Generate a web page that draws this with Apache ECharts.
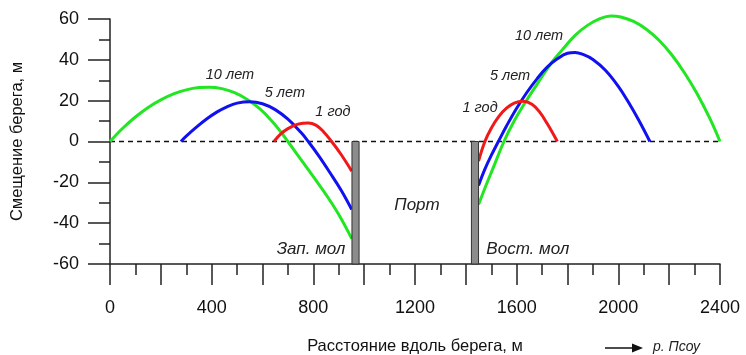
<!DOCTYPE html>
<html>
<head>
<meta charset="utf-8">
<script src="https://cdn.jsdelivr.net/npm/echarts@6/dist/echarts.min.js"></script>
<style>
  html, body { margin: 0; padding: 0; background: #fff; }
  #main { width: 746px; height: 355px; }
</style>
</head>
<body>
<div id="main"></div>
<script>
// западная сторона (до Зап. мола)
var west1 = [[645, 0], [670, 3.5], [700, 6.3], [740, 8.5], [780, 9.1], [810, 8.0], [840, 4.8], [872, 0], [910, -6.5], [951, -14.5]];
var west5 = [[279, 0], [300, 2.6], [340, 7.0], [380, 11.0], [420, 14.4], [460, 17.0], [500, 18.8], [550, 19.5], [600, 18.5], [650, 15.6], [700, 10.9], [750, 4.6], [780, 0], [820, -6.8], [865, -15.2], [910, -24.0], [951, -33.3]];
var west10 = [[0, 0], [50, 6.5], [100, 12], [150, 16.7], [200, 20.4], [250, 23.3], [300, 25.3], [350, 26.4], [390, 26.6], [440, 25.9], [490, 23.9], [540, 20.6], [590, 16.0], [640, 9.6], [670, 5.0], [700, 0], [750, -8.6], [800, -17.2], [850, -26.0], [900, -35.8], [951, -47.6]];
// восточная сторона (после Вост. мола)
var east1 = [[1450, -9.6], [1475, 0], [1500, 6.5], [1530, 12.3], [1560, 16.3], [1590, 18.8], [1625, 19.7], [1660, 18.3], [1690, 14.5], [1720, 8.8], [1760, 0]];
var east5 = [[1450, -21.5], [1475, -13.5], [1500, -6.8], [1528, 0], [1560, 7.6], [1600, 16.3], [1640, 24.0], [1680, 30.7], [1720, 36.4], [1760, 40.5], [1800, 43.2], [1830, 43.6], [1860, 42.7], [1900, 40.2], [1950, 34.8], [2000, 27.0], [2040, 19.2], [2080, 10.5], [2124, 0]];
var east10 = [[1450, -30.9], [1480, -21.3], [1510, -12.2], [1550, 0], [1590, 10.0], [1633, 19], [1680, 28.0], [1738, 38.8], [1780, 45.0], [1830, 52.0], [1880, 57.0], [1930, 60.3], [1970, 61.5], [2010, 61.0], [2060, 58.8], [2110, 55.0], [2160, 49.6], [2210, 42.5], [2260, 33.7], [2310, 23.4], [2360, 11.3], [2400, 0]];
// молы: [x0, x1, y0, y1]
var moles = [[952, 980, 0, -60], [1422, 1450, 0, -60]];
// подписи: [текст, x, y]
var notes = [
  ["10 лет", 472, 32.8], ["5 лет", 688, 24], ["1 год", 877, 14.7],
  ["10 лет", 1688, 51.9], ["5 лет", 1574, 32.3], ["1 год", 1456, 16.2]
];
var bigNotes = [["Зап. мол", 791, -52.9], ["Порт", 1208, -31.3], ["Вост. мол", 1644, -52.9]];

var font = "Liberation Sans";
var myChart = echarts.init(document.getElementById("main"));

function curve(data, color) {
  return {
    type: "line",
    data: data,
    smooth: 0.4,
    showSymbol: false,
    clip: false,
    lineStyle: { color: color, width: 3 },
    z: 3
  };
}

var option = {
  animation: false,
  grid: { left: 110, right: 26, top: 19, bottom: 91, outerBoundsMode: "none", containLabel: false },
  xAxis: {
    type: "value",
    min: 0,
    max: 2400,
    interval: 200,
    name: "Расстояние вдоль берега, м",
    nameLocation: "middle",
    nameGap: 74,
    nameTextStyle: { color: "#111", fontFamily: font, fontSize: 16.5 },
    axisLine: { onZero: false, lineStyle: { color: "#222", width: 1.5 } },
    axisTick: { length: 21, lineStyle: { color: "#222", width: 1.5 } },
    minorTick: { show: true, splitNumber: 2, length: 11, lineStyle: { color: "#222", width: 1.5 } },
    axisLabel: {
      margin: 35,
      color: "#111",
      fontFamily: font,
      fontSize: 18,
      formatter: function (v) { return v % 400 === 0 ? v : ""; }
    },
    splitLine: { show: false }
  },
  yAxis: {
    type: "value",
    min: -60,
    max: 60,
    interval: 20,
    name: "Смещение берега, м",
    nameLocation: "middle",
    nameGap: 84,
    nameTextStyle: { color: "#111", fontFamily: font, fontSize: 16.5 },
    axisLine: { show: true, lineStyle: { color: "#222", width: 1.5 } },
    axisTick: { length: 22, lineStyle: { color: "#222", width: 1.5 } },
    minorTick: { show: true, splitNumber: 2, length: 11, lineStyle: { color: "#222", width: 1.5 } },
    axisLabel: { margin: 31, color: "#111", fontFamily: font, fontSize: 18 },
    splitLine: { show: false }
  },
  series: [
    {
      type: "line",
      data: [[0, 0], [2400, 0]],
      showSymbol: false,
      lineStyle: { color: "#111", width: 1.5, type: [5, 4] },
      z: 2
    },
    curve(west10, "#22e622"),
    curve(west5, "#1010f0"),
    curve(west1, "#f01818"),
    curve(east10, "#22e622"),
    curve(east5, "#1010f0"),
    curve(east1, "#f01818"),
    {
      type: "custom",
      data: moles,
      encode: { x: [0, 1], y: [2, 3] },
      z: 4,
      renderItem: function (params, api) {
        var p0 = api.coord([api.value(0), api.value(2)]);
        var p1 = api.coord([api.value(1), api.value(3)]);
        return {
          type: "rect",
          shape: { x: p0[0], y: p0[1], width: p1[0] - p0[0], height: p1[1] - p0[1] },
          style: { fill: "#8c8c8c", stroke: "#333", lineWidth: 1 }
        };
      }
    }
  ]
};
myChart.setOption(option);

// подписи привязаны к координатам данных
var graphics = [];
notes.forEach(function (n) {
  var p = myChart.convertToPixel({ gridIndex: 0 }, [n[1], n[2]]);
  graphics.push({
    type: "text", x: p[0], y: p[1],
    style: { text: n[0], fill: "#222", font: "italic 14.5px '" + font + "'", align: "center", verticalAlign: "middle" }
  });
});
bigNotes.forEach(function (n) {
  var p = myChart.convertToPixel({ gridIndex: 0 }, [n[1], n[2]]);
  graphics.push({
    type: "text", x: p[0], y: p[1],
    style: { text: n[0], fill: "#222", font: "italic 17px '" + font + "'", align: "center", verticalAlign: "middle" }
  });
});
// стрелка к р. Псоу
graphics.push({ type: "line", shape: { x1: 605, y1: 348, x2: 634, y2: 348 }, style: { stroke: "#111", lineWidth: 1.5 } });
graphics.push({ type: "polygon", shape: { points: [[632, 343.5], [643, 348], [632, 352.5]] }, style: { fill: "#111" } });
graphics.push({
  type: "text", x: 653, y: 347,
  style: { text: "р. Псоу", fill: "#222", font: "italic 14px '" + font + "'", align: "left", verticalAlign: "middle" }
});
myChart.setOption({ graphic: graphics });
</script>
</body>
</html>
